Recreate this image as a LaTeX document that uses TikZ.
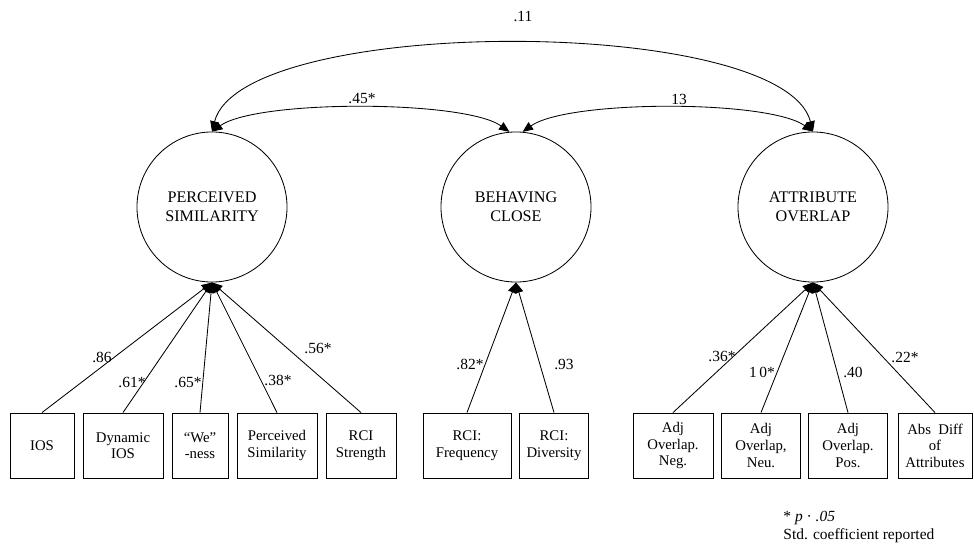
\documentclass[tikz,border=0pt]{standalone}
\usepackage{fontspec}
\setmainfont{Liberation Serif}
\usetikzlibrary{arrows.meta}

\tikzset{
  latent/.style={draw,circle,minimum size=3.75cm,inner sep=0pt,align=center,
    font=\fontsize{11.5}{13.5}\selectfont},
  indicator/.style={draw,minimum height=1.625cm,minimum width=#1,inner sep=0pt,
    align=center,font=\fontsize{10.5}{11.8}\selectfont},
  coef/.style={inner sep=0pt,font=\fontsize{11}{13}\selectfont},
  load/.style={-{Triangle[length=2.6mm,width=2.2mm]},line width=0.6pt},
  cov/.style={{Triangle[length=2.6mm,width=2.2mm]}-{Triangle[length=2.6mm,width=2.2mm]},
    line width=0.6pt}
}

\begin{document}
\begin{tikzpicture}[x=0.025cm,y=0.025cm,line width=0.6pt]
  \useasboundingbox (0,0) rectangle (974,-545);
  \node[latent] (ps) at (212,-207) {PERCEIVED\\SIMILARITY};
  \node[latent] (bc) at (516,-207) {BEHAVING\\CLOSE};
  \node[latent] (ao) at (813,-207) {ATTRIBUTE\\OVERLAP};
  \node[indicator=1.6cm] (ios) at (42,-445.5) {IOS};
  \node[indicator=2cm] (dios) at (123,-445.5) {Dynamic\\IOS};
  \node[indicator=1.4cm] (we) at (200,-445.5) {``We''\\-ness};
  \node[indicator=2cm] (psim) at (277,-445.5) {Perceived\\Similarity};
  \node[indicator=1.75cm] (rcis) at (361,-445.5) {RCI\\Strength};
  \node[indicator=2.2cm] (rcif) at (467,-445.5) {RCI:\\Frequency};
  \node[indicator=1.725cm] (rcid) at (554,-445.5) {RCI:\\Diversity};
  \node[indicator=2cm] (aneg) at (673,-445.5) {Adj\\Overlap.\\Neg.};
  \node[indicator=1.975cm] (aneu) at (761,-445.5) {Adj\\Overlap,\\Neu.};
  \node[indicator=1.975cm] (apos) at (848,-445.5) {Adj\\Overlap.\\Pos.};
  \node[indicator=1.85cm] (adif) at (935,-445.5) {Abs\ \ Diff\\of\\Attributes};
  \draw[cov]
    (ps.north)
    .. controls +(30,117) and +(-30,117) ..
    (ao.north);
  \draw[cov]
    (ps.north)
    .. controls +(45,32) and +(-45,32) ..
    (bc.95);
  \draw[cov]
    (bc.85)
    .. controls +(45,32) and +(-45,32) ..
    (ao.north);
  \foreach \ind in {ios,dios,we,psim,rcis}
    \draw[load] (\ind.north) -- (ps.south);
  \foreach \ind in {rcif,rcid}
    \draw[load] (\ind.north) -- (bc.south);
  \foreach \ind in {aneg,aneu,apos,adif}
    \draw[load] (\ind.north) -- (ao.south);
  \node[coef] (c11) at (523,-17) {.11};
  \node[coef] (c45) at (362,-99) {.45*};
  \node[coef] (c13) at (679,-99) {13};
  \node[coef] (c86) at (102,-357) {.86};
  \node[coef] (c61) at (132,-382) {.61*};
  \node[coef] (c65) at (188,-382) {.65*};
  \node[coef] (c38) at (278,-380) {.38*};
  \node[coef] (c56) at (318,-348) {.56*};
  \node[coef] (c82) at (470,-364) {.82*};
  \node[coef] (c93) at (564,-364) {.93};
  \node[coef] (c36) at (722,-356) {.36*};
  \node[coef] (c10) at (762,-372) {1\,0*};
  \node[coef] (c40) at (853,-372) {.40};
  \node[coef] (c22) at (905,-357) {.22*};
  \node[coef,anchor=base west] (sig) at (783,-521) {* \textit{p} · \textit{.05}};
  \node[coef,anchor=base west] (std) at (783,-539) {Std. coefficient reported};
\end{tikzpicture}
\end{document}
